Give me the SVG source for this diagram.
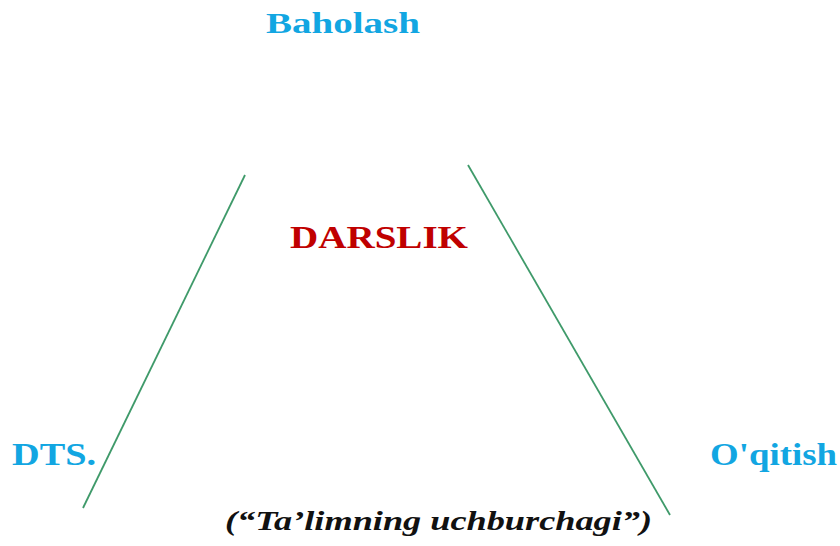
<svg xmlns="http://www.w3.org/2000/svg" width="840" height="546" viewBox="0 0 840 546">
<style>
.t{font-family:"Liberation Serif","Times New Roman",serif;font-weight:bold}
.blue{fill:#12a6e2}
.red{fill:#c00000}
.cap{fill:#111;font-style:italic}
.ln{stroke:#3f9a6a;stroke-width:1.8;fill:none}
</style>
<rect width="840" height="546" fill="#fff"/>
<g id="connectors">
<line class="ln" x1="245" y1="175" x2="83" y2="508"/>
<line class="ln" x1="468" y1="165" x2="670" y2="515"/>
</g>
<g id="baholash"><text class="t blue" x="266" y="33" font-size="30" textLength="154" lengthAdjust="spacingAndGlyphs">Baholash</text></g>
<g id="darslik"><text class="t red" x="290" y="248" font-size="31" textLength="178" lengthAdjust="spacingAndGlyphs">DARSLIK</text></g>
<g id="dts"><text class="t blue" x="12" y="465" font-size="31" textLength="84" lengthAdjust="spacingAndGlyphs">DTS.</text></g>
<g id="oqitish"><text class="t blue" x="710" y="465" font-size="31" textLength="127" lengthAdjust="spacingAndGlyphs">O'qitish</text></g>
<g id="caption"><text class="t cap" x="225" y="530" font-size="27" textLength="427" lengthAdjust="spacingAndGlyphs">(“Ta’limning uchburchagi”)</text></g>
</svg>
